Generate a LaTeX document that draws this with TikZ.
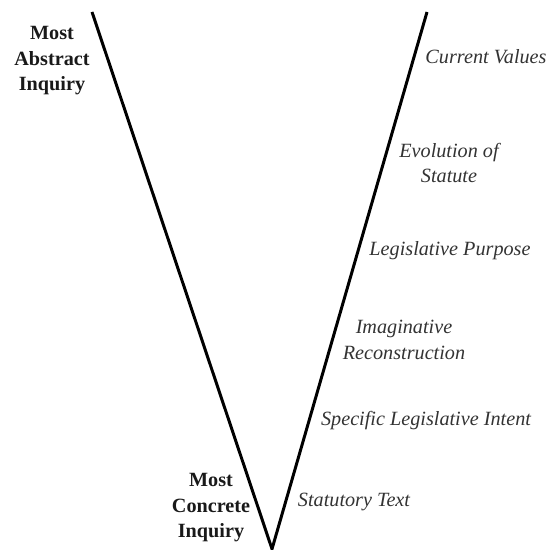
\documentclass[tikz,border=0pt]{standalone}
\usepackage{fontspec}
\setmainfont{Liberation Serif}
\tikzset{
  level/.style={font=\fontsize{11.5}{14.5}\selectfont\itshape, text=black!80, align=center, inner sep=0pt},
  pole/.style={font=\fontsize{11.5}{14.5}\selectfont\bfseries, text=black!90, align=center, inner sep=0pt},
}
\begin{document}
\begin{tikzpicture}[x=0.02cm, y=-0.02cm]
                \useasboundingbox (0,0) rectangle (548,550);
                \coordinate (topleft) at (92,12);
                \coordinate (tip) at (272,549);
                \coordinate (topright) at (427,12);
                \draw[line width=1.7pt] (topleft) -- (tip) -- (topright);
                \node[pole] (abstract) at (52,61) {Most\\Abstract\\Inquiry};
                \node[pole] (concrete) at (211,508) {Most\\Concrete\\Inquiry};
                \node[level] (values) at (486,57) {Current Values};
                \node[level] (evolution) at (449,163) {Evolution of\\Statute};
                \node[level] (purpose) at (450,251) {Legislative Purpose};
                \node[level] (imaginative) at (404,340) {Imaginative\\Reconstruction};
                \node[level] (intent) at (426,421) {Specific Legislative Intent};
                \node[level] (text) at (354,502) {Statutory Text};
            \end{tikzpicture}
\end{document}
